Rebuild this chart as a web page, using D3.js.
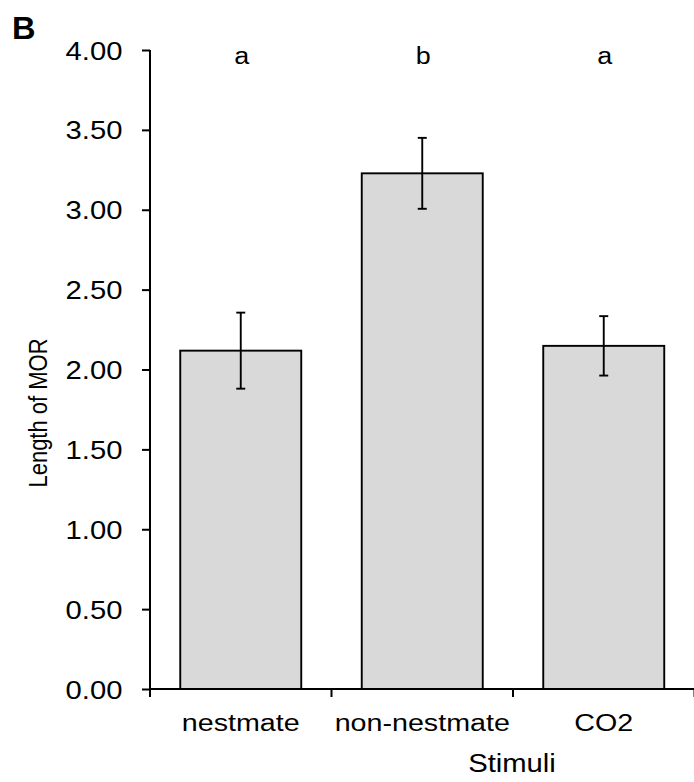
<!DOCTYPE html>
<html>
<head>
<meta charset="utf-8">
<script src="https://cdn.jsdelivr.net/npm/d3@7"></script>
<style>
  html, body { margin: 0; padding: 0; background: #fff; }
  svg text { font-family: Arial, "Liberation Sans", sans-serif; fill: #000; }
</style>
</head>
<body>
<svg id="chart" width="694" height="782"></svg>
<script>
const categories = ["nestmate", "non-nestmate", "CO2"];
const means = [2.118, 3.228, 2.148];
const errors = [0.238, 0.222, 0.186];
const sigLetters = ["a", "b", "a"];
const yTicks = [0, 0.5, 1, 1.5, 2, 2.5, 3, 3.5, 4];
const xTitle = "Stimuli";
const yTitle = "Length of MOR";
const panelLabel = "B";

const SX = 1.17; // horizontal stretch of the reference's lettering
const svg = d3.select("#chart");
const x = d3.scaleBand().domain(categories).range([150, 694.5]).paddingInner(1/3).paddingOuter(1/6);
const y = d3.scaleLinear().domain([0, 4]).range([689, 50]);

function stretchedText(g, tx, ty, size, anchor, str, extra) {
  return g.append("text")
    .attr("transform", `translate(${tx},${ty}) scale(${SX},1)` + (extra || ""))
    .attr("text-anchor", anchor)
    .attr("font-size", size)
    .text(str);
}

// bars
svg.append("g").selectAll("rect").data(categories).join("rect")
  .attr("x", d => x(d))
  .attr("y", (d, i) => y(means[i]))
  .attr("width", x.bandwidth())
  .attr("height", (d, i) => y(0) - y(means[i]))
  .attr("fill", "#d9d9d9")
  .attr("stroke", "#000")
  .attr("stroke-width", 1.9);

// error bars
const eg = svg.append("g").attr("stroke", "#000").attr("stroke-width", 1.9);
categories.forEach((c, i) => {
  const cx = x(c) + x.bandwidth() / 2;
  const hi = y(means[i] + errors[i]), lo = y(means[i] - errors[i]);
  eg.append("line").attr("x1", cx).attr("x2", cx).attr("y1", hi).attr("y2", lo);
  eg.append("line").attr("x1", cx - 4.5).attr("x2", cx + 4.5).attr("y1", hi).attr("y2", hi);
  eg.append("line").attr("x1", cx - 4.5).attr("x2", cx + 4.5).attr("y1", lo).attr("y2", lo);
});

// significance letters
const lg = svg.append("g");
categories.forEach((c, i) => stretchedText(lg, x(c) + x.bandwidth() / 2 + 1, 64, 23, "middle", sigLetters[i]));

// y axis
const yAxis = d3.axisLeft(y).tickValues(yTicks).tickFormat(d3.format(".2f")).tickSizeOuter(0).tickSize(8).tickPadding(19);
const yg = svg.append("g").attr("transform", "translate(150,0)").call(yAxis);
yg.select(".domain").attr("stroke", "#000").attr("stroke-width", 2).attr("d", "M0,50V697");
yg.selectAll(".tick line").attr("stroke", "#000").attr("stroke-width", 2);
yg.selectAll(".tick text")
  .attr("font-size", 25)
  .attr("font-family", "Arial, 'Liberation Sans', sans-serif")
  .attr("fill", "#000")
  .attr("x", 0)
  .attr("dy", "0.36em")
  .attr("transform", `translate(-27.5,0) scale(${SX},1)`);

// x axis
const xBound = d3.scaleOrdinal().domain(["left", "m1", "m2", "right"]).range([150, 331.5, 513, 694.5]);
const xg = svg.append("g");
xg.append("line").attr("x1", 150).attr("x2", 694).attr("y1", y(0)).attr("y2", y(0)).attr("stroke", "#000").attr("stroke-width", 2);
xg.selectAll("line.tk").data(xBound.domain()).join("line").attr("class", "tk")
  .attr("x1", d => xBound(d)).attr("x2", d => xBound(d))
  .attr("y1", y(0)).attr("y2", y(0) + 8)
  .attr("stroke", "#000").attr("stroke-width", 2);
categories.forEach(c => stretchedText(xg, x(c) + x.bandwidth() / 2, 731, 24.5, "middle", c));

// titles
stretchedText(svg, 512, 772, 25, "middle", xTitle);
stretchedText(svg, 46.5, 413, 22, "middle", yTitle, " rotate(-90)");
svg.append("text").attr("transform", "translate(12,39) scale(1.05,1)").attr("font-size", 31).attr("font-weight", "bold").text(panelLabel);
</script>
</body>
</html>
